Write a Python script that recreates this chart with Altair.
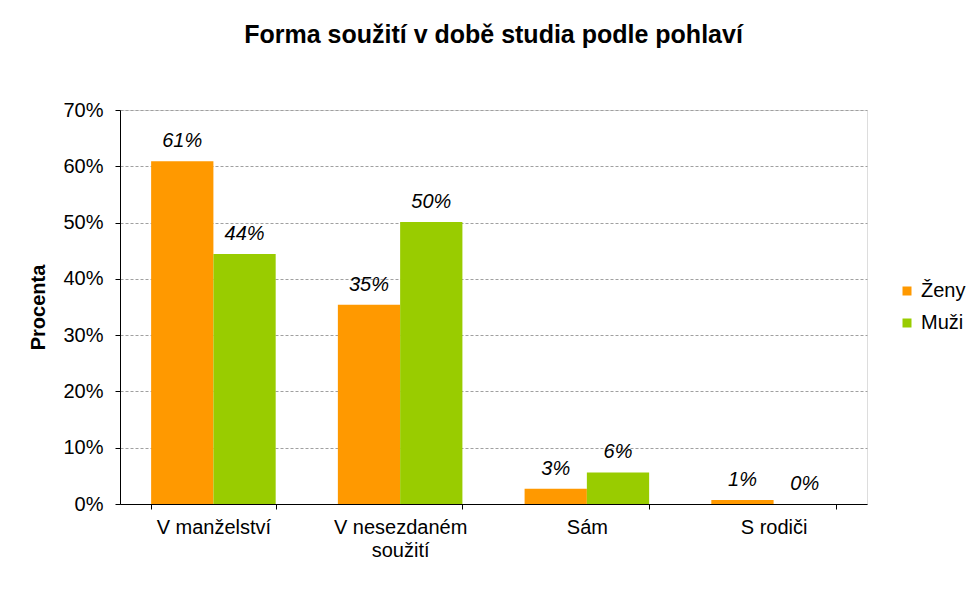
import altair as alt
import pandas as pd

categories = ["V manželství", "V nesezdaném soužití", "Sám", "S rodiči"]
series = ["Ženy", "Muži"]
zeny = [0.609, 0.354, 0.027, 0.007]
muzi = [0.444, 0.501, 0.056, 0.0]

rows = []
for c, z, m in zip(categories, zeny, muzi):
    rows.append({"kat": c, "pohlavi": "Ženy", "hodnota": z})
    rows.append({"kat": c, "pohlavi": "Muži", "hodnota": m})
df = pd.DataFrame(rows)

FONT = "Liberation Sans"

x = alt.X(
    "kat:N",
    sort=categories,
    scale=alt.Scale(paddingInner=0.333, paddingOuter=0.1667),
    axis=alt.Axis(
        title=None,
        labelAngle=0,
        tickBand="extent",
        domainColor="black",
        tickColor="black",
        tickSize=5,
        labelFontSize=20,
        labelFont=FONT,
        labelColor="black",
        labelPadding=8,
        labelLineHeight=23,
        labelExpr="datum.value == 'V nesezdaném soužití' ? ['V nesezdaném', 'soužití'] : datum.value",
    ),
)
xo = alt.XOffset("pohlavi:N", sort=series, scale=alt.Scale(paddingInner=0, paddingOuter=0))

base = alt.Chart(df).encode(x=x, xOffset=xo)

bars = base.mark_bar().encode(
    y=alt.Y(
        "hodnota:Q",
        scale=alt.Scale(domain=[0, 0.7], nice=False),
        axis=alt.Axis(
            title="Procenta",
            titleFont=FONT,
            titleFontSize=20,
            titleFontWeight="bold",
            titleColor="black",
            titlePadding=14,
            format=".0%",
            values=[0, 0.1, 0.2, 0.3, 0.4, 0.5, 0.6, 0.7],
            labelFontSize=20,
            labelFont=FONT,
            labelColor="black",
            labelPadding=12,
            tickSize=5,
            tickColor="black",
            domainColor="black",
            gridColor="#a0a0a0",
            gridDash=[3, 2],
            gridWidth=1,
        ),
    ),
    color=alt.Color(
        "pohlavi:N",
        sort=series,
        scale=alt.Scale(domain=series, range=["#FF9900", "#99CC00"]),
        legend=alt.Legend(
            title=None,
            orient="none",
            legendX=777,
            legendY=171,
            symbolType="square",
            symbolSize=81,
            symbolStrokeWidth=0,
            labelFont=FONT,
            labelFontSize=20,
            labelColor="black",
            rowPadding=12,
            labelOffset=4,
        ),
    ),
)

labels = base.mark_text(
    font=FONT, fontSize=20, fontStyle="italic", baseline="alphabetic", dy=-14, color="black"
).encode(
    y=alt.Y("hodnota:Q"),
    text=alt.Text("hodnota:Q", format=".0%"),
)

chart = (
    alt.layer(bars, labels)
    .properties(
        width=747,
        height=394,
        title=alt.TitleParams(
            "Forma soužití v době studia podle pohlaví",
            font=FONT,
            fontSize=25,
            fontWeight="bold",
            color="black",
            anchor="middle",
            offset=52,
        ),
        autosize=alt.AutoSizeParams(type="none"),
        padding={"left": 120, "top": 110, "right": 105, "bottom": 98},
    )
    .configure_view(stroke="#808080", strokeWidth=2)
    .configure_axis(gridOpacity=1)
    .configure(background="white")
)

chart.save("out.html", embed_options={"renderer": "svg", "actions": False})
